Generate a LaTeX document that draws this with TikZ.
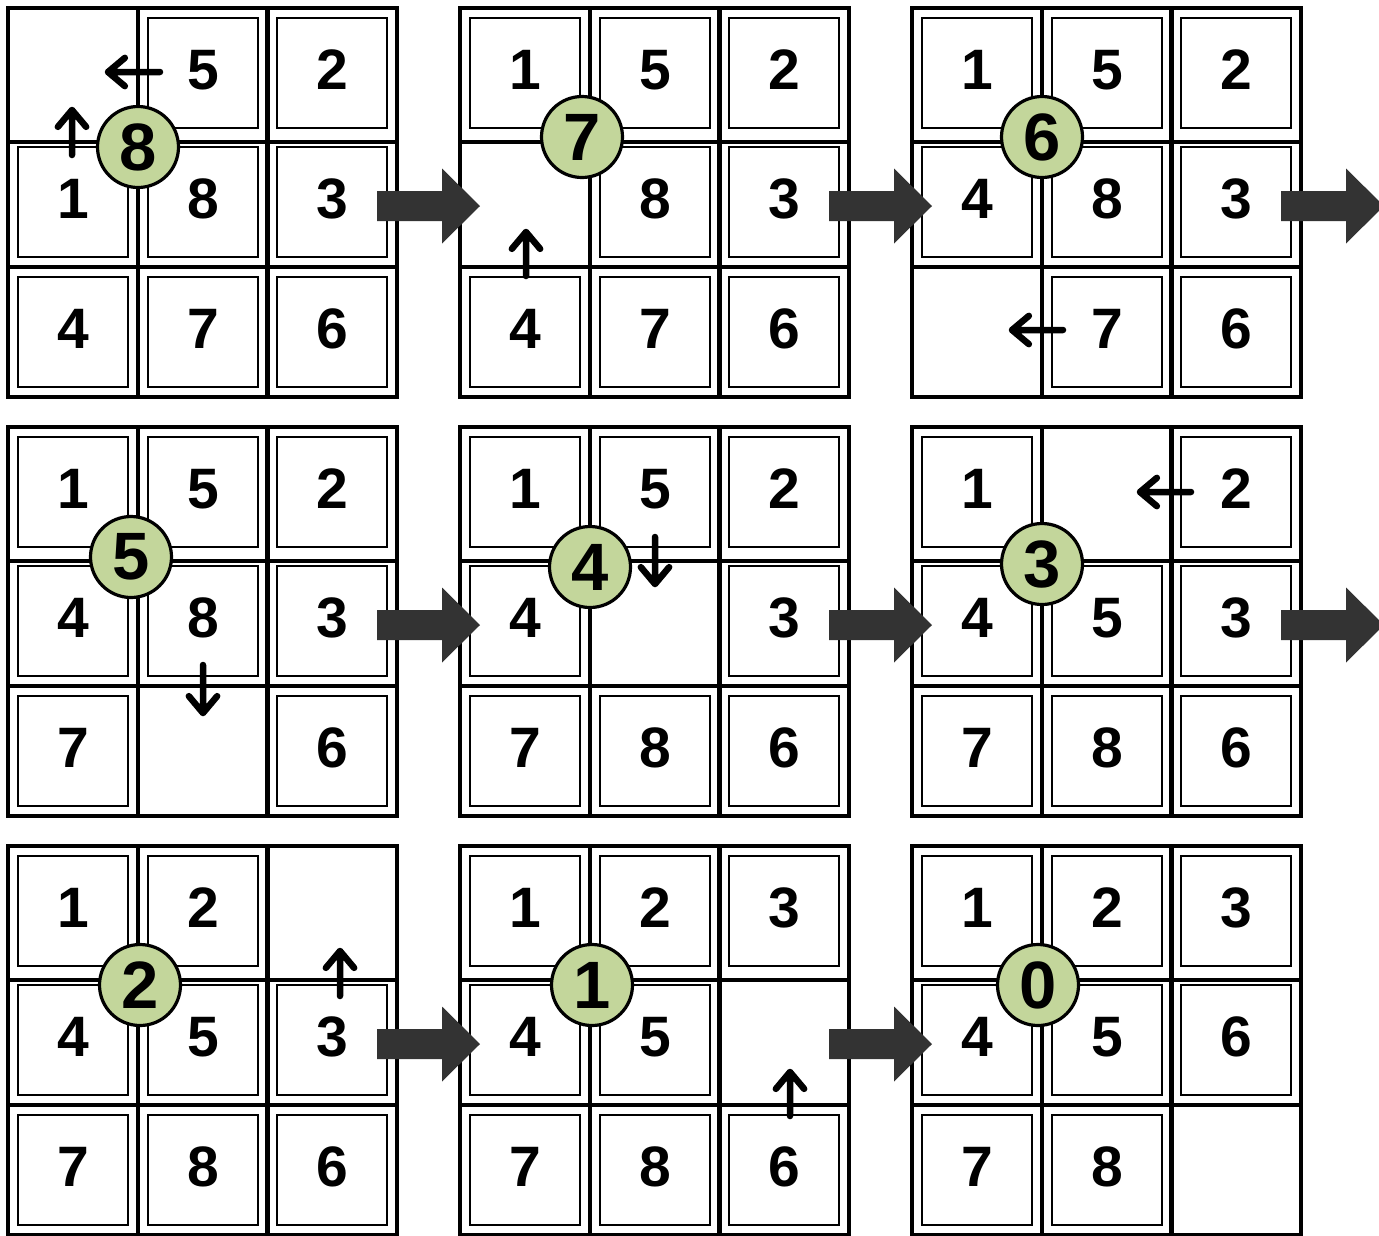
\documentclass[tikz,border=0pt]{standalone}
\usepackage{fontspec}
\setmainfont{Liberation Sans}
\usetikzlibrary{calc}
\definecolor{stepgreen}{HTML}{C3D69B}
\definecolor{blockgray}{HTML}{333333}
\tikzset{
  gridline/.style={line width=4.2pt},
  tilein/.style={line width=1.6pt},
  digit/.style={inner sep=0pt, font=\bfseries\fontsize{57}{57}\selectfont},
  stepcirc/.style={circle, draw, line width=3.2pt, fill=stepgreen, minimum size=81pt, inner sep=0pt, font=\bfseries\fontsize{67}{67}\selectfont},
  movearrow/.style={line width=6.5pt, line cap=round, line join=round},
  blockarrow/.style={fill=blockgray}
}
\def\emptycell{e}
\newcommand\puzzleboard[3]{% #1 board coordinate name, #2 list, #3 id
  \begin{scope}[shift={(#1)}]
    \foreach \v [count=\i from 0] in {#2} {
      \pgfmathtruncatemacro\rr{div(\i,3)}
      \pgfmathtruncatemacro\cc{mod(\i,3)}
      \pgfmathsetmacro\tx{{10,140,269}[\cc]}
      \pgfmathsetmacro\ty{{10,139,269}[\rr]}
      \ifx\v\emptycell\else
        \draw[tilein] (\tx,\ty) rectangle ++(110,110);
        \node[digit] (#3-\i) at (\tx+55,\ty+52) {\v};
      \fi
    }
    \draw[gridline] (0,0) rectangle (389,389)
      (130,0) -- (130,389) (259.5,0) -- (259.5,389)
      (0,134) -- (389,134) (0,259) -- (389,259);
  \end{scope}}
\newcommand\blockarrowafter[1]{%
  \fill[blockarrow] ([shift={(369,183)}]#1) -- ([shift={(434,183)}]#1) -- ([shift={(434,160.5)}]#1)
    -- ([shift={(472,198)}]#1) -- ([shift={(434,235.5)}]#1) -- ([shift={(434,213)}]#1)
    -- ([shift={(369,213)}]#1) -- cycle;}
\newcommand\movearrowfromto[2]{%
  \draw[movearrow] (#1) -- (#2)
    ($(#2)!22pt!40:(#1)$) -- (#2) -- ($(#2)!22pt!-40:(#1)$);}
\begin{document}
\begin{tikzpicture}[x=1pt,y=-1pt]
  \useasboundingbox (0,0) rectangle (1379,1235);
  \coordinate (B1) at (8,8);
  \coordinate (B2) at (460,8);
  \coordinate (B3) at (912,8);
  \coordinate (B4) at (8,427);
  \coordinate (B5) at (460,427);
  \coordinate (B6) at (912,427);
  \coordinate (B7) at (8,846);
  \coordinate (B8) at (460,846);
  \coordinate (B9) at (912,846);

  \puzzleboard{B1}{e,5,2,1,8,3,4,7,6}{b1}
  \puzzleboard{B2}{1,5,2,e,8,3,4,7,6}{b2}
  \puzzleboard{B3}{1,5,2,4,8,3,e,7,6}{b3}
  \puzzleboard{B4}{1,5,2,4,8,3,7,e,6}{b4}
  \puzzleboard{B5}{1,5,2,4,e,3,7,8,6}{b5}
  \puzzleboard{B6}{1,e,2,4,5,3,7,8,6}{b6}
  \puzzleboard{B7}{1,2,e,4,5,3,7,8,6}{b7}
  \puzzleboard{B8}{1,2,3,4,5,e,7,8,6}{b8}
  \puzzleboard{B9}{1,2,3,4,5,6,7,8,e}{b9}

  \blockarrowafter{B1}
  \blockarrowafter{B2}
  \blockarrowafter{B3}
  \blockarrowafter{B4}
  \blockarrowafter{B5}
  \blockarrowafter{B6}
  \blockarrowafter{B7}
  \blockarrowafter{B8}

  \node[stepcirc] (s8) at (138,147) {8};
  \node[stepcirc] (s7) at (582,137) {7};
  \node[stepcirc] (s6) at (1042,137) {6};
  \node[stepcirc] (s5) at (131,557) {5};
  \node[stepcirc] (s4) at (590,567) {4};
  \node[stepcirc] (s3) at (1042,564) {3};
  \node[stepcirc] (s2) at (140,985) {2};
  \node[stepcirc] (s1) at (592,985) {1};
  \node[stepcirc] (s0) at (1038,985) {0};

  \coordinate (m1a) at (160,72);   \coordinate (m1b) at (108,72);
  \coordinate (m2a) at (72,155);   \coordinate (m2b) at (72,110);
  \coordinate (m3a) at (526,276);  \coordinate (m3b) at (526,232);
  \coordinate (m4a) at (1063,330); \coordinate (m4b) at (1012,330);
  \coordinate (m5a) at (203,665);  \coordinate (m5b) at (203,713);
  \coordinate (m6a) at (655,537);  \coordinate (m6b) at (655,584);
  \coordinate (m7a) at (1191,492); \coordinate (m7b) at (1140,492);
  \coordinate (m8a) at (340,996);  \coordinate (m8b) at (340,951);
  \coordinate (m9a) at (790,1116); \coordinate (m9b) at (790,1072);
  \foreach \k in {1,...,9} {\movearrowfromto{m\k a}{m\k b}}
\end{tikzpicture}
\end{document}
